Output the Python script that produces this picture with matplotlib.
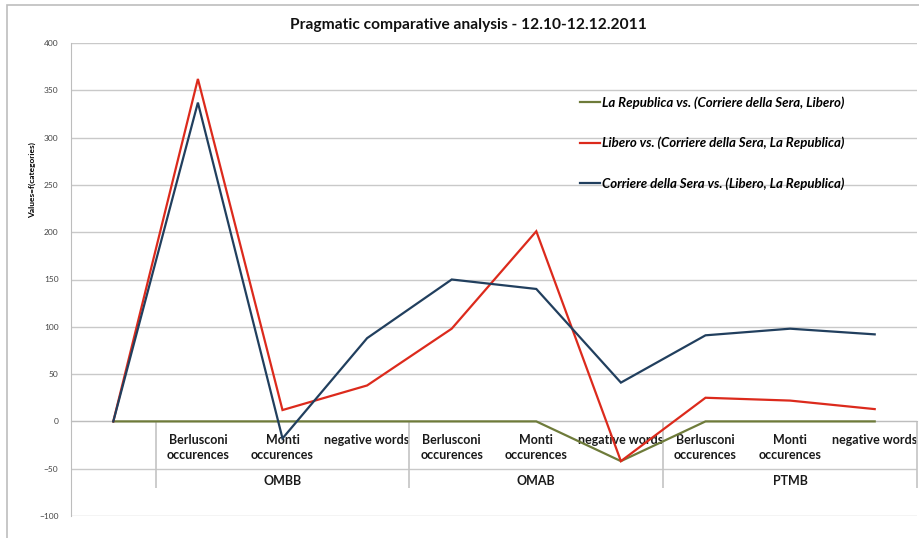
import matplotlib
matplotlib.use("Agg")
import matplotlib.pyplot as plt
from matplotlib.patches import Rectangle

plt.rcParams['font.family'] = ['Lato', 'DejaVu Sans']

categories = ["", "Berlusconi\noccurences", "Monti\noccurences", "negative words",
              "Berlusconi\noccurences", "Monti\noccurences", "negative words",
              "Berlusconi\noccurences", "Monti\noccurences", "negative words"]
groups = ["OMBB", "OMAB", "PTMB"]
group_spans = [(1, 3), (4, 6), (7, 9)]

republica = [0, 0, 0, 0, 0, 0, -42, 0, 0, 0]
libero = [0, 362, 12, 38, 98, 201, -42, 25, 22, 13]
corriere = [0, 337, -18, 88, 150, 140, 41, 91, 98, 92]

series_labels = ["La Republica vs. (Corriere della Sera, Libero)",
                 "Libero vs. (Corriere della Sera, La Republica)",
                 "Corriere della Sera vs. (Libero, La Republica)"]
colors = ["#6e7b3a", "#dc2a1c", "#213f5e"]

W, H = 919, 538
fig = plt.figure(figsize=(W / 100, H / 100), dpi=100)
ax = fig.add_axes([71 / W, (H - 516) / H, (917 - 71) / W, (516 - 43) / H])

x = list(range(len(categories)))
for vals, lab, c in zip([republica, libero, corriere], series_labels, colors):
    ax.plot(x, vals, color=c, lw=1.6, label=lab, zorder=3, solid_joinstyle='miter')

ax.set_xlim(-0.5, len(categories) - 0.5)
ax.set_ylim(-100, 400)
ax.set_yticks(range(-100, 401, 50))
ax.yaxis.grid(True, color="#c9c9c9", lw=1.0)
ax.set_axisbelow(True)

for s in ["top", "right"]:
    ax.spines[s].set_visible(False)
ax.spines["left"].set_color("#bdbdbd")
ax.spines["bottom"].set_position(("data", 0))
ax.spines["bottom"].set_color("#bdbdbd")

ax.set_xticks(x)
ax.set_xticklabels(categories, fontsize=9, fontweight="bold", color="#1a1a1a", linespacing=1.33)
ax.tick_params(axis="x", length=0, pad=9)
ax.tick_params(axis="y", length=0, pad=9, labelsize=6, labelcolor="#444444")

# group separators
ax.vlines([0.5, 3.5, 6.5, 9.5], -70, 0, colors="#c4c4c4", lw=1.2, clip_on=False, zorder=1)
for g, (a, b) in zip(groups, group_spans):
    ax.text((a + b) / 2, -63, g, ha="center", va="center", fontsize=9,
            fontweight="bold", color="#1a1a1a")

ax.set_ylabel("Values=f(categories)", fontsize=6, fontweight="bold")
ax.yaxis.set_label_coords(-0.041, 0.71)

leg = ax.legend(loc="upper left", bbox_to_anchor=(0.588, 0.913), frameon=False,
                handlelength=1.5, handletextpad=0.15, labelspacing=2.13,
                prop={"size": 9.5, "weight": "bold", "style": "italic"})

fig.text(468 / W, 1 - 25 / H, "Pragmatic comparative analysis - 12.10-12.12.2011",
         ha="center", va="center", fontsize=11.2, fontweight="bold", color="#111111")

fig.patches.append(Rectangle((7 / W, -0.1), 1.2, 1 - 5 / H + 0.1, transform=fig.transFigure,
                             fill=False, edgecolor="#bdbdbd", lw=1.2))

fig.savefig("out.png", dpi=100)
